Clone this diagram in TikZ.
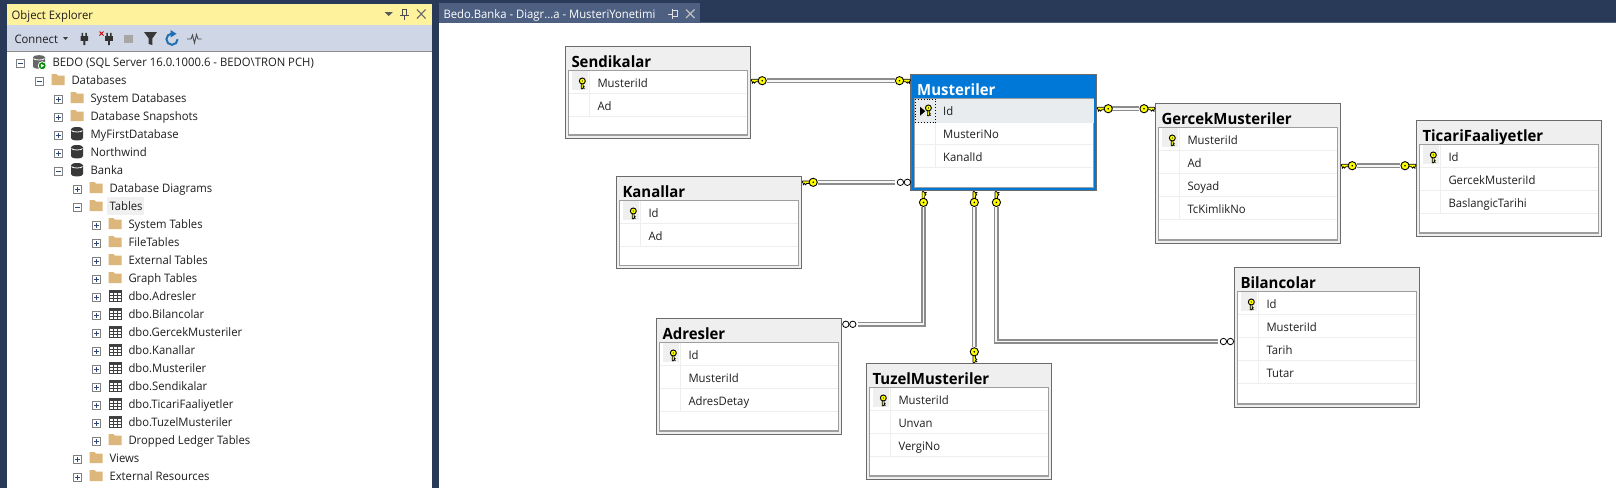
\documentclass[tikz,border=0pt]{standalone}
\usepackage{fontspec}
\setmainfont{Open Sans}
\newfontfamily\uifont[FakeStretch=0.965]{Open Sans}
\newcommand{\uisize}{\uifont\fontsize{11.7}{14}\selectfont}
\newcommand{\titlesize}{\uifont\bfseries\fontsize{15.5}{18}\selectfont}
\definecolor{frame}{HTML}{293A58}
\definecolor{tabblue}{HTML}{4D6082}
\definecolor{panelyellow}{HTML}{FFF29D}
\definecolor{toolbar}{HTML}{CFD6E5}
\definecolor{folder}{HTML}{DCB67A}
\definecolor{keyyellow}{HTML}{FFFF00}
\definecolor{selblue}{HTML}{0078D7}
\definecolor{tabgray}{HTML}{EFEFEF}
\definecolor{rowgray}{HTML}{EEEEEE}
\definecolor{rowsel}{HTML}{E9ECEF}
\definecolor{inktext}{HTML}{1E1E1E}
\definecolor{expander}{HTML}{2F4878}
\definecolor{refreshblue}{HTML}{1F6FB2}
\tikzset{
  tablebox/.style={draw=black!58,line width=1.3pt,minimum width=185.4pt,inner sep=0pt,outer sep=0pt},
  innerframe/.style={draw=black!38,line width=1.3pt,fill=white},
  rowline/.style={draw=rowgray,line width=1pt},
  rowtext/.style={anchor=base west,inner sep=0pt,text=inktext,font=\uisize},
  titletext/.style={anchor=base west,inner sep=0pt,font=\titlesize},
  treetext/.style={anchor=base west,inner sep=0pt,text=inktext,font=\uisize},
  fk/.style={draw=black!45,line width=1.4pt,double=black!3,double distance=1.9pt,line join=miter,shorten <=16pt,shorten >=16pt},
  dbkey/.pic={
    \filldraw[fill=keyyellow,draw=black,line width=.7pt] (7.6,-1.4) -- (.6,-1.4) -- (0,-.4) -- (1.1,1.1) -- (1.1,2.5) -- (2.5,1.1) -- (3.3,2.5) -- (4.6,1.1) -- (7.6,1.1) -- cycle;
    \filldraw[fill=keyyellow,draw=black,line width=.9pt] (11,0) circle (4.1);
    \fill[black] (11,0) circle (.9);
  },
  dbmany/.pic={
    \filldraw[fill=white,draw=black,line width=.8pt] (3.6,0) circle (3.2);
    \filldraw[fill=white,draw=black,line width=.8pt] (10.6,0) circle (3.2);
  },
  foldericon/.pic={
    \fill[folder] (-6.5,-5.5) -- (-1.5,-5.5) -- (0,-4) -- (6.5,-4) -- (6.5,5.5) -- (-6.5,5.5) -- cycle;
  },
  dbicon/.pic={
    \fill[black!78] (-6,-4.5) -- (-6,4.5) arc[start angle=180,end angle=360,x radius=6,y radius=-2.2] -- (6,-4.5) arc[start angle=0,end angle=180,x radius=6,y radius=-2.2] -- cycle;
    \draw[white,line width=.8pt] (-5.4,-3.2) arc[start angle=180,end angle=360,x radius=5.4,y radius=-1.5];
  },
  tableicon/.pic={
    \fill[black!75] (-6.5,-6) rectangle (6.5,6);
    \foreach \cx in {-5.2,-1.1,3} \foreach \cy in {-2.4,.7,3.5}
      \fill[white] (\cx,\cy) rectangle (\cx+3.1,\cy+2);
  },
  servericon/.pic={
    \fill[black!60] (-6,-4.5) -- (-6,5) arc[start angle=180,end angle=360,x radius=6,y radius=-2] -- (6,-4.5) arc[start angle=0,end angle=180,x radius=6,y radius=-2] -- cycle;
    \draw[white,line width=.8pt] (-5.4,-3.2) arc[start angle=180,end angle=360,x radius=5.4,y radius=-1.5];
    \filldraw[fill=green!55!black,draw=white,line width=.8pt] (3.2,4) circle (4);
    \fill[white] (1.9,2) -- (5.2,4) -- (1.9,6) -- cycle;
  },
  plusbox/.pic={
    \draw[fill=white,draw=black!50,line width=.8pt] (-4,-4) rectangle (4,4);
    \draw[expander,line width=.9pt] (-2.3,0) -- (2.3,0) (0,-2.3) -- (0,2.3);
  },
  minusbox/.pic={
    \draw[fill=white,draw=black!50,line width=.8pt] (-4,-4) rectangle (4,4);
    \draw[expander,line width=.9pt] (-2.3,0) -- (2.3,0);
  },
  plugicon/.pic={
    \fill[black!80] (-2.8,-6) rectangle (-1.2,-2) (1.2,-6) rectangle (2.8,-2) (-4,-2.5) rectangle (4,2.5) (-1,2.5) rectangle (1,7);
  }
}
% \dbtab{name}{x}{y}{height}{title}{rows}
\newcommand{\tabbg}{tabgray}
\newcommand{\tabink}{black}
\newcommand{\dbtab}[6]{%
  \node[tablebox,fill=\tabbg,minimum height=#4pt,anchor=north west] (#1) at (#2,#3) {};
  \node[titletext,text=\tabink] (#1-title) at (#2+6,#3+20.7) {#5};
  \draw[innerframe] (#2+3.2,#3+24) rectangle (#2+182.2,#3+#4-3.2);
  \foreach \t [count=\i] in {#6} {
    \pgfmathsetmacro{\rt}{#3+24+23*(\i-1)}
    \draw[rowline] (#2+4,\rt+23) -- (#2+181.4,\rt+23);
    \draw[rowline] (#2+24.4,\rt+.7) -- (#2+24.4,\rt+23);
    \node[rowtext] (#1-r\i) at (#2+32,\rt+17.4) {\t};
  }
}
\newcommand{\keycell}[2]{%
  \fill[tabgray] (#1+7,#2+25) rectangle (#1+23,#2+44);
  \pic[rotate=90,scale=.73] at (#1+17,#2+42.7) {dbkey};
}
% \treerow{n}{level}{icon}{expander}{text}
\newcommand{\treerow}[5]{%
  \pgfmathsetmacro{\by}{66+18*#1}
  \pic at (20.3+19*#2,\by-2.4) {#4};
  \pic at (39+19*#2,\by-4.3) {#3};
  \node[treetext] (tree-#1) at (52.3+19*#2,\by) {#5};
}
\begin{document}
\begin{tikzpicture}[x=1pt,y=-1pt]
\useasboundingbox (0,0) rectangle (1616,488);
% frame
\fill[frame] (0,0) rectangle (1616,488);
% left panel
\fill[panelyellow] (6.5,4) rectangle (432,25);
\fill[toolbar] (6.5,25) rectangle (432,51.5);
\draw[black!45,line width=.8pt] (6.5,51.5) -- (432,51.5);
\fill[white] (6.5,52) rectangle (432,488);
\node[treetext] (panel-title) at (11.5,19) {Object Explorer};
\fill[black!65] (384.5,12) -- (393,12) -- (388.7,16) -- cycle;
\draw[black!70,line width=1pt] (402,9.5) -- (402,15.5) -- (406.5,15.5) -- (406.5,9.5) -- cycle (400,15.5) -- (408.5,15.5) (404.2,15.5) -- (404.2,20);
\draw[black!60,line width=1.1pt] (417,9.5) -- (425.5,18.5) (425.5,9.5) -- (417,18.5);
% toolbar
\node[treetext] (connect) at (14.3,43.2) {Connect};
\fill[black!75] (63,37) -- (68,37) -- (65.5,40) -- cycle;
\pic[scale=.95] at (84.3,38.5) {plugicon};
\pic[scale=.95] at (109,38.5) {plugicon};
\draw[red!80!black,line width=.9pt] (99.5,31.5) -- (103.5,35.5) (103.5,31.5) -- (99.5,35.5);
\fill[black!35] (124,34.5) rectangle (132.5,42.5);
\fill[black!78] (144,32) -- (157,32) -- (152.3,38.5) -- (152.3,45) -- (148.7,44) -- (148.7,38.5) -- cycle;
\draw[refreshblue,line width=2pt] (172,33.6) arc[start angle=90,end angle=360,radius=5.6pt];
\fill[refreshblue] (170.5,30) -- (176.5,33.8) -- (170.5,37.5) -- cycle;
\draw[black!70,line width=.9pt] (187,39) -- (191,39) -- (192.5,35) -- (194.5,43) -- (196.5,34.5) -- (198,39) -- (201.5,39);
% tree
\fill[black!6] (107,197) rectangle (144,215);
\treerow{0}{0}{servericon}{minusbox}{BEDO (SQL Server 16.0.1000.6 - BEDO\textbackslash TRON PCH)}
\treerow{1}{1}{foldericon}{minusbox}{Databases}
\treerow{2}{2}{foldericon}{plusbox}{System Databases}
\treerow{3}{2}{foldericon}{plusbox}{Database Snapshots}
\treerow{4}{2}{dbicon}{plusbox}{MyFirstDatabase}
\treerow{5}{2}{dbicon}{plusbox}{Northwind}
\treerow{6}{2}{dbicon}{minusbox}{Banka}
\treerow{7}{3}{foldericon}{plusbox}{Database Diagrams}
\treerow{8}{3}{foldericon}{minusbox}{Tables}
\treerow{9}{4}{foldericon}{plusbox}{System Tables}
\treerow{10}{4}{foldericon}{plusbox}{FileTables}
\treerow{11}{4}{foldericon}{plusbox}{External Tables}
\treerow{12}{4}{foldericon}{plusbox}{Graph Tables}
\treerow{13}{4}{tableicon}{plusbox}{dbo.Adresler}
\treerow{14}{4}{tableicon}{plusbox}{dbo.Bilancolar}
\treerow{15}{4}{tableicon}{plusbox}{dbo.GercekMusteriler}
\treerow{16}{4}{tableicon}{plusbox}{dbo.Kanallar}
\treerow{17}{4}{tableicon}{plusbox}{dbo.Musteriler}
\treerow{18}{4}{tableicon}{plusbox}{dbo.Sendikalar}
\treerow{19}{4}{tableicon}{plusbox}{dbo.TicariFaaliyetler}
\treerow{20}{4}{tableicon}{plusbox}{dbo.TuzelMusteriler}
\treerow{21}{4}{foldericon}{plusbox}{Dropped Ledger Tables}
\treerow{22}{3}{foldericon}{plusbox}{Views}
\treerow{23}{3}{foldericon}{plusbox}{External Resources}
% document tab and canvas
\fill[tabblue] (439,3.3) rectangle (700,23);
\fill[tabblue] (439,21.8) rectangle (1616,23);
\fill[white] (439,23) rectangle (1616,488);
\node[treetext,text=white] (doc-tab) at (443.3,18.5) {Bedo.Banka - Diagr...a - MusteriYonetimi};
\draw[black!12,line width=.9pt] (668,14) -- (672,14) (672,10.5) rectangle (677,16.5) (672,8.5) -- (672,18.5);
\draw[black!25,line width=1.1pt] (686,9.5) -- (694.5,18) (694.5,9.5) -- (686,18);
% tables
\dbtab{sendikalar}{565.3}{46.3}{92}{Sendikalar}{MusteriId,Ad}
\keycell{565.3}{46.3}
\dbtab{kanallar}{616.3}{176.3}{92.4}{Kanallar}{Id,Ad}
\keycell{616.3}{176.3}
\renewcommand{\tabbg}{selblue}\renewcommand{\tabink}{white}
\dbtab{musteriler}{911}{74.3}{116.4}{Musteriler}{Id,MusteriNo,KanalId}
\renewcommand{\tabbg}{tabgray}\renewcommand{\tabink}{black}
\fill[rowsel] (914.8,99) rectangle (1093.5,122.5);
\draw[black,line width=.9pt,dotted] (915.2,99) rectangle (935.7,122.3);
\node[rowtext] (musteriler-sel) at (943,115.7) {Id};
\fill[black] (920,106.7) -- (925.3,111.2) -- (920,115.7) -- cycle;
\pic[rotate=90,scale=.73] at (928.4,116) {dbkey};
\dbtab{gercek}{1155.3}{103.3}{140}{GercekMusteriler}{MusteriId,Ad,Soyad,TcKimlikNo}
\keycell{1155.3}{103.3}
\dbtab{ticari}{1416.3}{120.3}{116}{TicariFaaliyetler}{Id,GercekMusteriId,BaslangicTarihi}
\keycell{1416.3}{120.3}
\dbtab{bilancolar}{1234.3}{267.3}{140}{Bilancolar}{Id,MusteriId,Tarih,Tutar}
\keycell{1234.3}{267.3}
\dbtab{adresler}{656.3}{318.3}{116}{Adresler}{Id,MusteriId,AdresDetay}
\keycell{656.3}{318.3}
\dbtab{tuzel}{866.3}{363.3}{116}{TuzelMusteriler}{MusteriId,Unvan,VergiNo}
\keycell{866.3}{363.3}
% connectors
\draw[fk] (sendikalar.east |- 0,80.7) -- (musteriler.west |- 0,80.7);
\draw[fk] (kanallar.east |- 0,182.3) -- (musteriler.west |- 0,182.3);
\draw[fk] (musteriler.east |- 0,108.7) -- (gercek.west |- 0,108.7);
\draw[fk] (gercek.east |- 0,165.7) -- (ticari.west |- 0,165.7);
\draw[fk] (musteriler.south -| 923.5,0) |- (adresler.east |- 0,324.3);
\draw[fk] (musteriler.south -| 974.3,0) -- (tuzel.north -| 974.3,0);
\draw[fk] (musteriler.south -| 996.4,0) |- (bilancolar.west |- 0,341.5);
% connector ends
\pic at (751.2,80.7) {dbkey};
\pic[xscale=-1] at (910.5,80.7) {dbkey};
\pic at (802.2,182.3) {dbkey};
\pic[xscale=-1] at (911,182.3) {dbmany};
\pic at (1097.2,108.7) {dbkey};
\pic[xscale=-1] at (1155,108.7) {dbkey};
\pic at (1341.2,165.7) {dbkey};
\pic[xscale=-1] at (1416,165.7) {dbkey};
\pic[rotate=-90,yscale=-1] at (923.5,191.4) {dbkey};
\pic[rotate=-90,yscale=-1] at (974.3,191.4) {dbkey};
\pic[rotate=-90,yscale=-1] at (996.4,191.4) {dbkey};
\pic at (842.2,324.3) {dbmany};
\pic[rotate=90] at (974.3,362.8) {dbkey};
\pic[xscale=-1] at (1234,341.5) {dbmany};
\end{tikzpicture}
\end{document}
